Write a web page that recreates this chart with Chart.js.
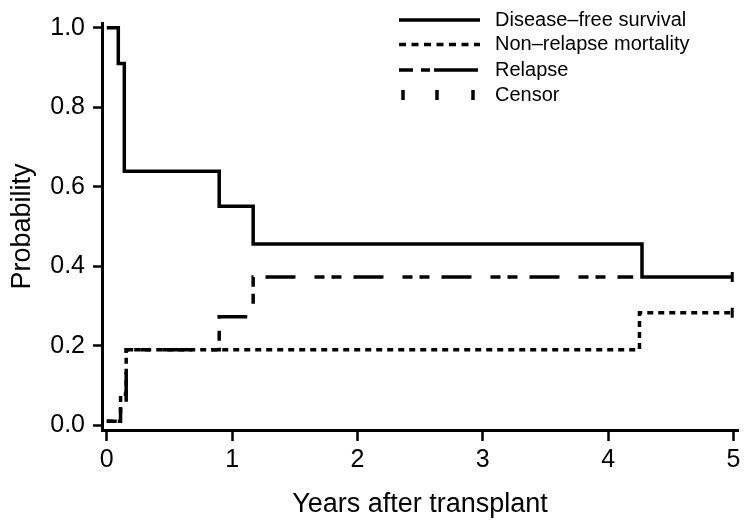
<!DOCTYPE html>
<html>
<head>
<meta charset="utf-8">
<script src="https://cdn.jsdelivr.net/npm/chart.js@4.4.1/dist/chart.umd.min.js"></script>
<style>
  html, body { margin: 0; padding: 0; background: #fff; }
</style>
</head>
<body>
<canvas id="grafica" width="751" height="526"></canvas>
<script>
// Kaplan-Meier style step curves (value holds until the next x)
const dfsX = [0, 0.092, 0.14, 0.897, 1.168, 4.27, 4.99];
const dfsY = [1.0, 0.91, 0.639, 0.551, 0.456, 0.373, 0.373];
const nrmX = [0, 0.11, 0.155, 4.25, 4.99];
const nrmY = [0.01, 0.078, 0.19, 0.283, 0.283];
const relX = [0, 0.11, 0.155, 0.897, 1.168, 4.2];
const relY = [0.01, 0.044, 0.19, 0.273, 0.373, 0.373];
const censorX = [4.99, 4.99];
const censorY = [0.373, 0.283];

const xTicks = [0, 1, 2, 3, 4, 5];
const yTicks = [0, 0.2, 0.4, 0.6, 0.8, 1.0];
const legendLabels = ['Disease\u2013free survival', 'Non\u2013relapse mortality', 'Relapse', 'Censor'];

const FONT = "'Liberation Sans', Arial, Helvetica, sans-serif";
const LW = 3.5;
const nrmDash = [6, 5];
const relDash = [10, 7, 10, 12, 30, 19];

const toPoints = (xs, ys) => xs.map((x, i) => ({ x: x, y: ys[i] }));

// legend drawn by hand so the dash samples look like the original
const legendPlugin = {
  id: 'kmLegend',
  afterDraw(chart) {
    const ctx = chart.ctx;
    const x0 = 399, x1 = 480, tx = 495;
    const rows = [20, 44.5, 70, 95];
    ctx.save();
    ctx.strokeStyle = '#000';
    ctx.lineWidth = LW;
    ctx.lineCap = 'butt';

    const samples = [[], [7, 5.5], [14, 8, 9, 4, 44, 40], null];
    samples.forEach((dash, i) => {
      const y = rows[i];
      if (dash) {
        ctx.setLineDash(dash);
        ctx.beginPath();
        ctx.moveTo(x0, y);
        ctx.lineTo(x1, y);
        ctx.stroke();
      } else {
        ctx.setLineDash([]);
        [403, 437, 473].forEach(cx => {
          ctx.beginPath();
          ctx.moveTo(cx, y - 5);
          ctx.lineTo(cx, y + 5);
          ctx.stroke();
        });
      }
    });

    ctx.setLineDash([]);
    ctx.fillStyle = '#000';
    ctx.font = '20px ' + FONT;
    ctx.textBaseline = 'middle';
    ctx.textAlign = 'left';
    legendLabels.forEach((t, i) => ctx.fillText(t, tx, rows[i]));
    ctx.restore();
  }
};

const ctx = document.getElementById('grafica').getContext('2d');

new Chart(ctx, {
  type: 'line',
  data: {
    datasets: [
      {
        label: legendLabels[0],
        data: toPoints(dfsX, dfsY),
        borderColor: '#000',
        borderWidth: LW,
        stepped: 'before',
        pointRadius: 0,
        fill: false
      },
      {
        label: legendLabels[1],
        data: toPoints(nrmX, nrmY),
        borderColor: '#000',
        borderWidth: LW,
        borderDash: nrmDash,
        stepped: 'before',
        pointRadius: 0,
        fill: false
      },
      {
        label: legendLabels[2],
        data: toPoints(relX, relY),
        borderColor: '#000',
        borderWidth: LW,
        borderDash: relDash,
        stepped: 'before',
        pointRadius: 0,
        fill: false
      },
      {
        type: 'scatter',
        label: legendLabels[3],
        data: toPoints(censorX, censorY),
        showLine: false,
        pointStyle: 'line',
        rotation: 90,
        pointRadius: 5,
        pointBorderWidth: 3,
        pointBorderColor: '#000',
        pointBackgroundColor: '#000'
      }
    ]
  },
  options: {
    responsive: false,
    animation: false,
    devicePixelRatio: 1,
    layout: { padding: { top: 10, right: 13, left: 0, bottom: 0 } },
    plugins: {
      legend: { display: false },
      tooltip: { enabled: false }
    },
    scales: {
      x: {
        type: 'linear',
        min: -0.038,
        max: 5.036,
        afterBuildTicks: s => { s.ticks = xTicks.map(v => ({ value: v })); },
        afterFit: s => { s.height = 96; },
        ticks: {
          color: '#000',
          font: { family: FONT, size: 25 },
          padding: 4,
          maxRotation: 0,
          autoSkip: false,
          callback: v => String(v)
        },
        grid: {
          drawOnChartArea: false,
          tickLength: 11,
          tickColor: '#000',
          tickWidth: 2.5
        },
        border: { color: '#000', width: 3 },
        title: {
          display: true,
          text: 'Years after transplant',
          color: '#000',
          font: { family: FONT, size: 27 },
          padding: { top: 0, bottom: 5 }
        }
      },
      y: {
        type: 'linear',
        min: -0.012,
        max: 1.012,
        afterBuildTicks: s => { s.ticks = yTicks.map(v => ({ value: v })); },
        afterFit: s => { s.width = 102; },
        ticks: {
          color: '#000',
          font: { family: FONT, size: 25 },
          padding: 8,
          autoSkip: false,
          callback: v => Number(v).toFixed(1)
        },
        grid: {
          drawOnChartArea: false,
          tickLength: 9,
          tickColor: '#000',
          tickWidth: 2.5
        },
        border: { color: '#000', width: 3 },
        title: {
          display: true,
          text: 'Probability',
          color: '#000',
          font: { family: FONT, size: 27 },
          padding: { top: 6, bottom: 0 }
        }
      }
    }
  },
  plugins: [legendPlugin]
});
</script>
</body>
</html>
